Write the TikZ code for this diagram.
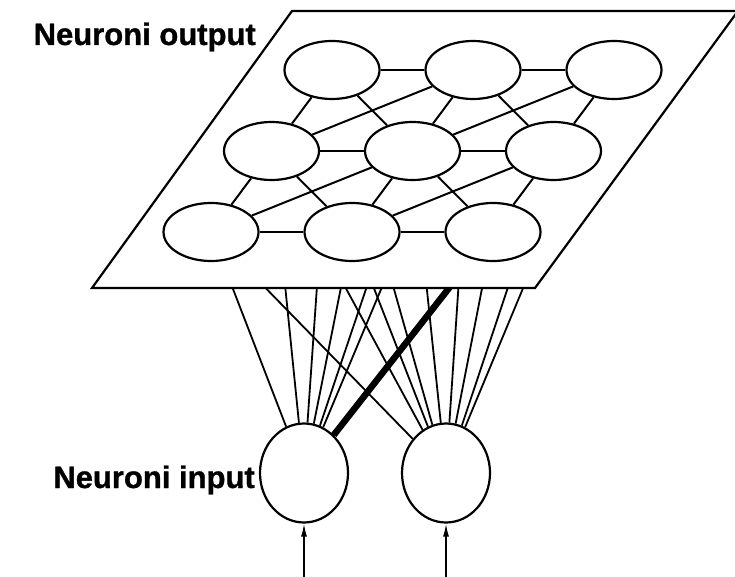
\documentclass[tikz,border=0pt]{standalone}
\usepackage{fontspec}
\setmainfont{Liberation Sans}
\newfontfamily\lblfont[UprightFont={* Bold},FakeBold=1]{Liberation Sans}
\usetikzlibrary{shapes.geometric,arrows.meta}
\pgfdeclarelayer{bg}
\pgfdeclarelayer{plane}
\pgfsetlayers{bg,plane,main}
\begin{document}
\begin{tikzpicture}[x=1pt,y=-1pt,
  line width=2pt,
  outn/.style={ellipse,draw,line width=2.2pt,fill=white,inner sep=0pt,minimum width=95pt,minimum height=58pt},
  inn/.style={ellipse,draw,line width=2.2pt,fill=white,inner sep=0pt,minimum width=88pt,minimum height=99pt},
  planestyle/.style={draw,line width=2.2pt,fill=white,line join=miter},
  fan/.style={line width=1.8pt},
  heavy/.style={line width=6.5pt},
  mesh/.style={line width=2pt},
  inarrow/.style={line width=1.5pt,-{Latex[length=13pt,width=6pt]}},
  lbl/.style={font=\lblfont\fontsize{31}{36}\selectfont,inner sep=0pt}]
\useasboundingbox (0,0) rectangle (735,577);
% output neurons
\foreach \r in {0,1,2}
  \foreach \c in {0,1,2}
    \node[outn] (o\r\c) at ({332+141*\c-60.5*\r},{70+81*\r}) {};
% input neurons
\node[inn] (iL) at (304,473) {};
\node[inn] (iR) at (446,473) {};
% output plane
\begin{pgfonlayer}{plane}
  \path[planestyle] (92,288) -- (535,288) -- (738,11) -- (292,11) -- cycle;
\end{pgfonlayer}
% connections input -> output (hidden behind the plane)
\begin{pgfonlayer}{bg}
  \foreach \r in {0,1,2}
    \foreach \c in {0,1,2} {
      \draw[fan] (iL) -- (o\r\c);
      \draw[fan] (iR) -- (o\r\c);
    }
  \draw[heavy] (iL) -- (o22);
\end{pgfonlayer}
% lateral connections among output neurons
\foreach \a/\b in {00/01,01/02,10/11,11/12,20/21,21/22,
                   00/10,01/11,02/12,10/20,11/21,12/22,
                   00/11,01/12,10/21,11/22,
                   01/10,02/11,11/20,12/21}
  \draw[mesh] (o\a) -- (o\b);
% input arrows
\coordinate (aL) at (304,577);
\coordinate (aR) at (446,577);
\draw[inarrow] (aL) -- (iL);
\draw[inarrow] (aR) -- (iR);
% labels
\node[lbl,anchor=base east] (tout) at (256,45) {Neuroni output};
\node[lbl,anchor=base east] (tin) at (255,488) {Neuroni input};
\end{tikzpicture}
\end{document}
